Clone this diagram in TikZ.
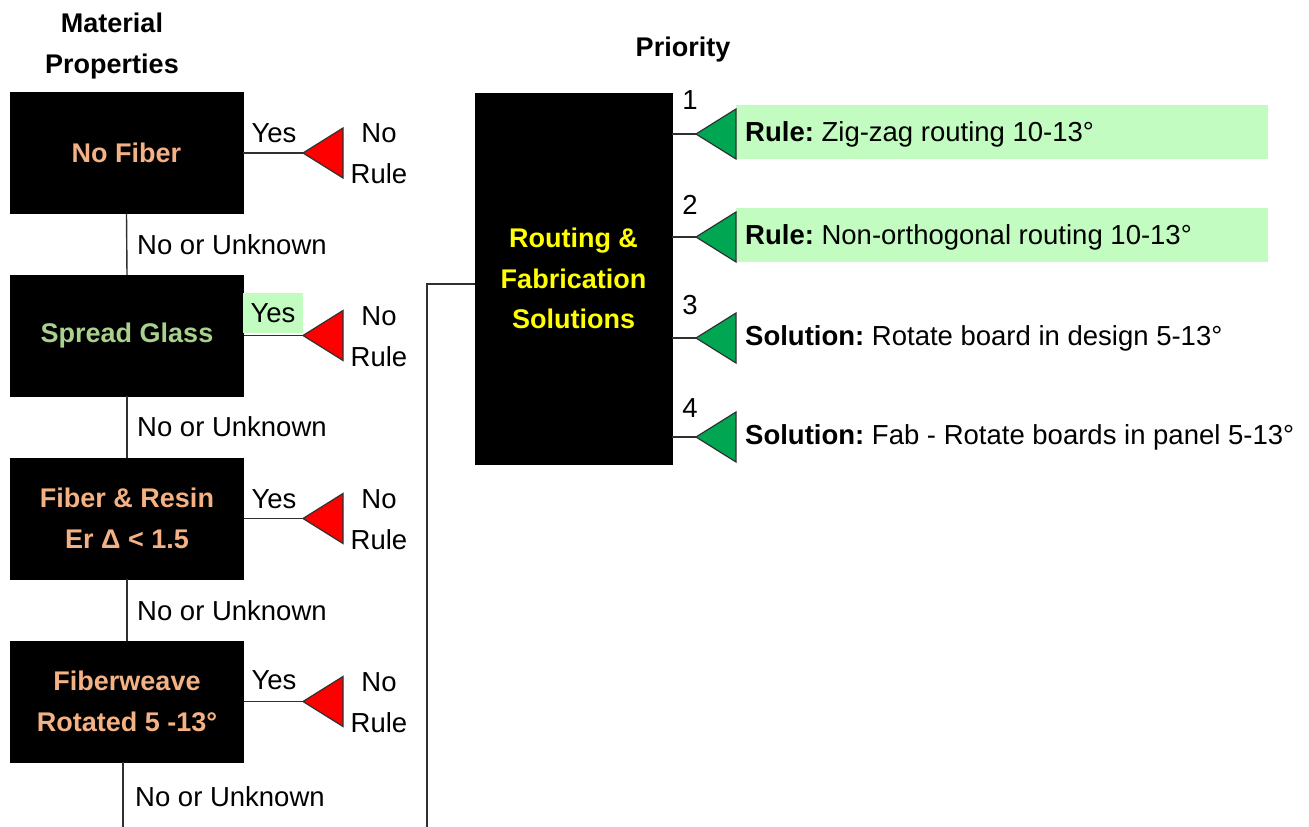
\documentclass[tikz,border=0pt]{standalone}
\usepackage{fontspec}
\setmainfont{Liberation Sans}
\definecolor{tanfg}{HTML}{F4B183}
\definecolor{greenfg}{HTML}{A9D18E}
\definecolor{yellowfg}{HTML}{FFFF00}
\definecolor{mintbg}{HTML}{C2FCC0}
\definecolor{okgreen}{HTML}{00A651}
\definecolor{wire}{HTML}{303030}
\tikzset{
  base/.style={font=\fontsize{27.5}{41}\selectfont},
  propbox/.style={base, fill=black, draw=black, minimum width=233pt, minimum height=121pt,
    align=center, font=\fontsize{27}{40.5}\selectfont\bfseries},
  bigbox/.style={propbox, minimum width=197pt, minimum height=371pt},
  wireline/.style={draw=wire, line width=1.4pt},
  redtri/.style={fill=red, draw=wire, line width=1.2pt, line join=miter},
  greentri/.style={fill=okgreen, draw=wire, line width=1.2pt, line join=miter},
  lbl/.style={base, inner sep=0pt},
  rowband/.style={fill=mintbg, anchor=west, minimum width=532pt, minimum height=54pt, inner sep=0pt},
  rowlabel/.style={base, anchor=west, inner sep=0pt},
  headline/.style={base, align=center, font=\fontsize{27}{41}\selectfont\bfseries, inner sep=0pt}
}
\begin{document}
\begin{tikzpicture}[x=1pt, y=-1pt]
\useasboundingbox (0,0) rectangle (1309,827);

% column headings
\node[headline] (hmat) at (112,46) {Material\\Properties};
\node[headline] (hpri) at (683,50) {Priority};

% material property checks
\node[propbox, text=tanfg]    (nofiber) at (126.5,153)   {No Fiber};
\node[propbox, text=greenfg]  (spread)  at (127,335.5)   {Spread Glass};
\node[propbox, text=tanfg]    (resin)   at (127,518.5)   {Fiber \& Resin\\Er Δ < 1.5};
\node[propbox, text=tanfg]    (weave)   at (127,701.5)   {Fiberweave\\Rotated 5 -13°};

% vertical "No or Unknown" path
\draw[wireline] (nofiber.south) -- (spread.north);
\draw[wireline] (spread.south) -- (resin.north);
\draw[wireline] (resin.south) -- (weave.north);
\coordinate (weaveend) at (123,827);
\draw[wireline] (weave.south -| weaveend) -- (weaveend);
\node[lbl, anchor=west] (nu1) at (137,245) {No or Unknown};
\node[lbl, anchor=west] (nu2) at (137,427) {No or Unknown};
\node[lbl, anchor=west] (nu3) at (137,611) {No or Unknown};
\node[lbl, anchor=west] (nu4) at (135,797) {No or Unknown};

% "Yes" branches ending in red "No Rule" markers
\foreach \src/\y [count=\i] in {nofiber/153, spread/335.5, resin/518.5, weave/701.5}{
  \coordinate (rt\i) at (303,\y);
  \draw[wireline] (\src.east) -- (rt\i);
  \draw[redtri] (rt\i) -- ++(40,-25) -- ++(0,50) -- cycle;
  \node[base, align=center, inner sep=0pt] (nr\i) at (379,\y+1) {No\\Rule};
}
\node[lbl] (yes1) at (274,133) {Yes};
\node[base, fill=mintbg, minimum width=60pt, minimum height=40pt, inner sep=0pt] (yes2) at (273,313) {Yes};
\node[lbl] (yes3) at (274,499) {Yes};
\node[lbl] (yes4) at (274,680) {Yes};

% routing and fabrication solutions
\node[bigbox, text=yellowfg] (route) at (573.5,278.5) {Routing \&\\Fabrication\\Solutions};
\coordinate (rbend) at (427,284);
\coordinate (rend) at (427,827);
\draw[wireline] (route.west |- rbend) -- (rbend) -- (rend);

% highlighted bands behind the two rules
\node[rowband] (band1) at (736,132) {};
\node[rowband] (band2) at (736,234.5) {};

\foreach \y/\ny [count=\i] in {134/100, 237/205, 338/305, 437/408}{
  \coordinate (gt\i) at (696,\y);
  \draw[wireline] (route.east |- gt\i) -- (gt\i);
  \node[lbl] (pn\i) at (690,\ny) {\i};
  \draw[greentri] (gt\i) -- ++(40,-25) -- ++(0,50) -- cycle;
}
\node[rowlabel] (r1) at (745,134) {\textbf{Rule:}\ Zig-zag routing 10-13°};
\node[rowlabel] (r2) at (745,237) {\textbf{Rule:}\ Non-orthogonal routing 10-13°};
\node[rowlabel] (r3) at (745,338) {\textbf{Solution:}\ Rotate board in design 5-13°};
\node[rowlabel] (r4) at (745,437) {\textbf{Solution:}\ Fab - Rotate boards in panel 5-13°};
\end{tikzpicture}
\end{document}
